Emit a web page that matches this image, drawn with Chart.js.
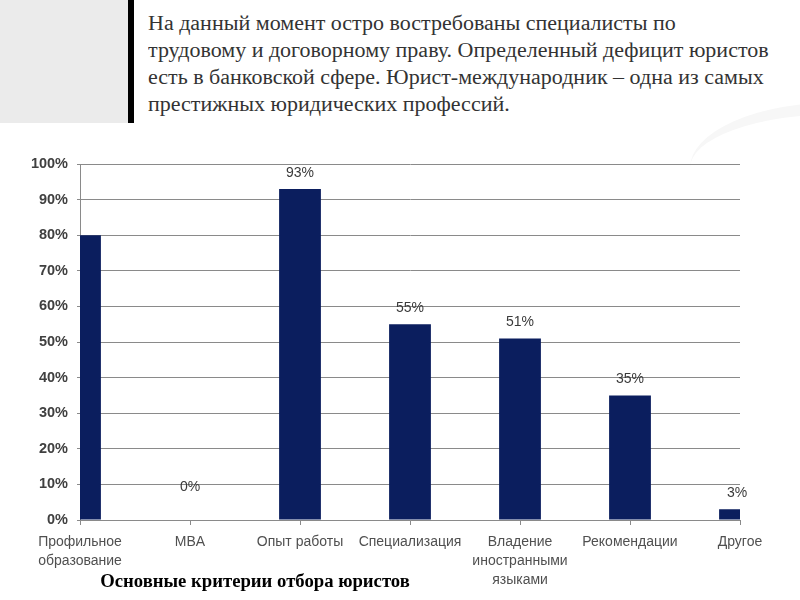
<!DOCTYPE html>
<html>
<head>
<meta charset="utf-8">
<script src="https://cdn.jsdelivr.net/npm/chart.js@4/dist/chart.umd.min.js"></script>
<style>
    html, body { margin:0; padding:0; background:#fff; }
    #page { position:relative; width:800px; height:600px; overflow:hidden; }
    #grayBox { position:absolute; left:0; top:0; width:128px; height:123px; background:#ebebeb; }
    #blackBar { position:absolute; left:128px; top:0; width:6px; height:123px; background:#000; }
    #swoosh { position:absolute; left:690px; top:102px; width:300px; height:120px; border-radius:50%; border-top:12px solid #f7f7f7; }
    #intro { position:absolute; left:148px; top:10px; width:600px; font-family:"Liberation Serif","Times New Roman",serif; font-size:20px; line-height:27px; color:#333; transform:scaleX(1.1); transform-origin:left top; white-space:nowrap; }
    #title { position:absolute; left:0; width:510px; top:570px; text-align:center; font-family:"Liberation Serif","Times New Roman",serif; font-weight:bold; font-size:18.7px; color:#000; }
    #chartBox { position:absolute; left:0; top:0; width:800px; height:600px; }
</style>
</head>
<body>
<div id="page">
    <div id="grayBox"></div>
    <div id="blackBar"></div>
    <div id="swoosh"></div>
    <div id="intro">На данный момент остро востребованы специалисты по<br>трудовому и договорному праву. Определенный дефицит юристов<br>есть в банковской сфере. Юрист-международник – одна из самых<br>престижных юридических профессий.</div>
    <div id="chartBox"><canvas id="chart" width="800" height="600"></canvas></div>
    <div id="title">Основные критерии отбора юристов</div>
</div>
<script>
const categories = [
    ['Профильное', 'образование'],
    'MBA',
    'Опыт работы',
    'Специализация',
    ['Владение', 'иностранными', 'языками'],
    'Рекомендации',
    'Другое'
];
const values = [80, 0, 93, 55, 51, 35, 3];
const yTicks = [0, 10, 20, 30, 40, 50, 60, 70, 80, 90, 100];

// value labels above bars (first one is hidden in the original)
const valueLabels = {
    id: 'valueLabels',
    afterDatasetsDraw(chart) {
        const { ctx } = chart;
        const meta = chart.getDatasetMeta(0);
        ctx.save();
        ctx.font = '14px "Liberation Sans", Arial, sans-serif';
        ctx.fillStyle = '#3a3a3a';
        ctx.textAlign = 'center';
        ctx.textBaseline = 'middle';
        meta.data.forEach((bar, i) => {
            if (i === 0) return;
            const v = values[i];
            let x = bar.x;
            if (i === values.length - 1) x -= 3;
            const y = bar.y - (v === 0 ? 33 : 16);
            ctx.fillText(v + '%', x, y);
        });
        ctx.restore();
    }
};

new Chart(document.getElementById('chart'), {
    type: 'bar',
    data: {
        labels: categories,
        datasets: [{
            data: values,
            backgroundColor: '#0b1e5e',
            borderWidth: 0,
            barPercentage: 0.38,
            categoryPercentage: 1,
            clip: 0
        }]
    },
    options: {
        responsive: false,
        animation: false,
        devicePixelRatio: 1,
        layout: { padding: { top: 164, right: 60, left: 0, bottom: 0 } },
        plugins: { legend: { display: false }, tooltip: { enabled: false } },
        scales: {
            x: {
                offset: false,
                grid: { offset: false, drawOnChartArea: false, drawTicks: true, tickLength: 5, color: '#8a8a8a' },
                border: { color: '#8a8a8a', width: 1 },
                ticks: {
                    autoSkip: false, maxRotation: 0, minRotation: 0, padding: 7,
                    color: '#505050',
                    font: { family: '"Liberation Sans", Arial, sans-serif', size: 14, lineHeight: 1.38 }
                },
                afterFit(scale) { scale.height = 80; }
            },
            y: {
                min: 0, max: 100,
                afterBuildTicks(scale) { scale.ticks = yTicks.map(v => ({ value: v })); },
                grid: { color: '#8a8a8a', tickLength: 3 },
                border: { color: '#8a8a8a', width: 1 },
                ticks: {
                    padding: 9,
                    color: '#404040',
                    callback: v => v + '%',
                    font: { family: '"Liberation Sans", Arial, sans-serif', size: 14.5, weight: 'bold' }
                },
                afterFit(scale) { scale.width = 80; }
            }
        }
    },
    plugins: [valueLabels]
});
</script>
</body>
</html>
